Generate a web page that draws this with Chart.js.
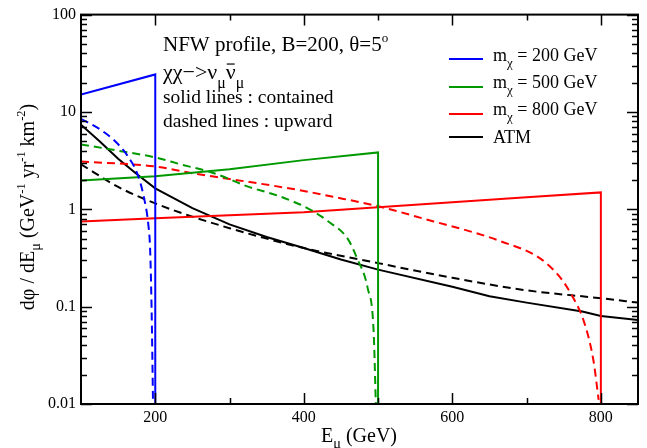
<!DOCTYPE html>
<html>
<head>
<meta charset="utf-8">
<script src="https://cdn.jsdelivr.net/npm/chart.js@4"></script>
<style>
  body { margin: 0; background: #fff; }
  canvas { display: block; }
</style>
</head>
<body>
<canvas id="fluxChart" width="647" height="448"></canvas>
<script>
// muon flux from DM annihilation (solid = contained, dashed = upward)
const m200SolidE = [100, 200, 200];
const m200SolidFlux = [15.1, 24.3, 0.01];
const m200DashE = [100, 126, 146, 162, 176, 184, 191, 193, 195, 197];
const m200DashFlux = [8.5, 6.6, 5.0, 3.6, 2.3, 1.4, 0.66, 0.4, 0.1, 0.01];

const m500SolidE = [100, 200, 300, 400, 500, 500];
const m500SolidFlux = [1.98, 2.18, 2.58, 3.2, 3.84, 0.01];
const m500DashE = [100, 150, 200, 234, 279, 324, 365, 395, 413, 433, 459, 472, 486, 494, 497];
const m500DashFlux = [4.64, 4.0, 3.41, 2.9, 2.35, 1.72, 1.38, 1.12, 0.95, 0.75, 0.5, 0.31, 0.155, 0.056, 0.01];

const m800SolidE = [100, 200, 300, 400, 500, 600, 700, 800, 800];
const m800SolidFlux = [0.75, 0.81, 0.87, 0.93, 1.05, 1.18, 1.33, 1.49, 0.01];
const m800DashE = [100, 200, 250, 300, 395, 436, 499, 575, 625, 665, 719, 746, 760, 777, 790, 797];
const m800DashFlux = [3.1, 2.75, 2.35, 2.05, 1.57, 1.36, 1.08, 0.75, 0.59, 0.47, 0.31, 0.196, 0.134, 0.071, 0.028, 0.011];

// atmospheric background
const atmSolidE = [100, 125, 150, 175, 200, 250, 300, 350, 400, 450, 500, 600, 650, 700, 775, 800, 850];
const atmSolidFlux = [7.4, 5.0, 3.3, 2.3, 1.64, 1.03, 0.70, 0.52, 0.40, 0.305, 0.24, 0.16, 0.128, 0.11, 0.089, 0.080, 0.073];
const atmDashE = [100, 150, 200, 250, 300, 350, 400, 500, 600, 700, 800, 850];
const atmDashFlux = [2.9, 1.7, 1.15, 0.84, 0.64, 0.50, 0.40, 0.28, 0.198, 0.147, 0.122, 0.11];

const xTicks = [200, 400, 600, 800];
const xMinorTicks = [300, 500, 700];
const yTicks = [0.01, 0.1, 1, 10, 100];
const yTickLabels = ["0.01", "0.1", "1", "10", "100"];
const legendMasses = ["200 GeV", "500 GeV", "800 GeV"];

const BLUE = "#0000ff", GREEN = "#009900", RED = "#ff0000", BLACK = "#000000";
const SERIF = '"Liberation Serif", "Times New Roman", serif';

function pts(xs, ys) {
  return xs.map((x, i) => ({ x: x, y: ys[i] }));
}

function line(xs, ys, color, dashed) {
  return {
    data: pts(xs, ys),
    borderColor: color,
    borderWidth: 2,
    borderDash: dashed ? [8, 5] : [],
    pointRadius: 0,
    fill: false,
    cubicInterpolationMode: dashed ? "monotone" : "default",
    tension: 0
  };
}

// draws text with sub/superscripts, returns end x
function richText(ctx, x, y, parts, size, measureOnly, subDrop) {
  let cx = x;
  for (const p of parts) {
    const kind = p[1] || "";
    const small = kind === "sub" || kind === "sup";
    const s = small ? size * (kind === "sup" ? 0.62 : 0.72) : size;
    ctx.font = s + "px " + SERIF;
    let dy = 0;
    if (kind === "sub") dy = size * (subDrop || 0.32);
    if (kind === "sup") dy = -size * 0.45;
    const w = ctx.measureText(p[0]).width;
    if (!measureOnly) {
      ctx.fillText(p[0], cx, y + dy);
      if (kind === "bar") {
        ctx.beginPath();
        ctx.lineWidth = 1.2;
        ctx.moveTo(cx + 1, y - size * 0.68);
        ctx.lineTo(cx + w - 1, y - size * 0.68);
        ctx.stroke();
      }
    }
    cx += w;
  }
  return cx;
}

const decorPlugin = {
  id: "decor",
  afterDatasetsDraw(chart) {
    const ctx = chart.ctx;
    const a = chart.chartArea;
    const xs = chart.scales.x, ys = chart.scales.y;
    ctx.save();
    ctx.strokeStyle = BLACK;
    ctx.fillStyle = BLACK;

    // inward ticks on all four sides
    ctx.lineWidth = 1.5;
    ctx.beginPath();
    const xt = (v, len) => {
      const px = Math.round(xs.getPixelForValue(v)) + 0.5;
      ctx.moveTo(px, a.bottom); ctx.lineTo(px, a.bottom - len);
      ctx.moveTo(px, a.top); ctx.lineTo(px, a.top + len);
    };
    xTicks.forEach(v => xt(v, 11));
    xMinorTicks.forEach(v => xt(v, 6));
    const yt = (v, len) => {
      const py = Math.round(ys.getPixelForValue(v)) + 0.5;
      ctx.moveTo(a.left, py); ctx.lineTo(a.left + len, py);
      ctx.moveTo(a.right, py); ctx.lineTo(a.right - len, py);
    };
    yTicks.forEach((d, i) => {
      yt(d, 11);
      if (i < yTicks.length - 1) {
        for (let k = 2; k <= 9; k++) yt(d * k, 6);
      }
    });
    ctx.stroke();

    // frame
    ctx.lineWidth = 2;
    ctx.strokeRect(a.left, a.top, a.right - a.left, a.bottom - a.top);

    // annotation text
    ctx.textAlign = "left";
    ctx.textBaseline = "alphabetic";
    richText(ctx, 163, 51, [["NFW profile, B=200, θ=5"], ["o", "sup"]], 21);
    richText(ctx, 163, 79, [["χχ−>ν"], ["μ", "sub"], ["ν", "bar"], ["μ", "sub"]], 22, false, 0.4);
    richText(ctx, 163, 103, [["solid lines : contained"]], 19.5);
    richText(ctx, 163, 127, [["dashed lines : upward"]], 19.5);

    // legend
    const legColors = [BLUE, GREEN, RED, BLACK];
    const lineYs = [59, 87, 114, 137];
    const textYs = [61, 88, 115, 143];
    legColors.forEach((c, i) => {
      ctx.strokeStyle = c;
      ctx.lineWidth = 2;
      ctx.beginPath();
      ctx.moveTo(449, lineYs[i]);
      ctx.lineTo(483, lineYs[i]);
      ctx.stroke();
      ctx.strokeStyle = BLACK;
      if (i < 3) {
        richText(ctx, 493, textYs[i], [["m"], ["χ", "sub"], [" = " + legendMasses[i]]], 18);
      } else {
        richText(ctx, 493, textYs[i], [["ATM"]], 18);
      }
    });

    // axis titles
    richText(ctx, 321, 442, [["E"], ["μ", "sub"], [" (GeV)"]], 20);
    const yParts = [["dφ / dE"], ["μ", "sub"], [" (GeV"], ["-1", "sup"], [" yr"], ["-1", "sup"], [" km"], ["-2", "sup"], [")"]];
    const w = richText(ctx, 0, 0, yParts, 20, true);
    ctx.save();
    ctx.translate(34, 207);
    ctx.rotate(-Math.PI / 2);
    richText(ctx, -w / 2, 0, yParts, 20);
    ctx.restore();

    ctx.restore();
  }
};

new Chart(document.getElementById("fluxChart"), {
  type: "line",
  data: {
    datasets: [
      line(m200SolidE, m200SolidFlux, BLUE, false),
      line(m200DashE, m200DashFlux, BLUE, true),
      line(m500SolidE, m500SolidFlux, GREEN, false),
      line(m500DashE, m500DashFlux, GREEN, true),
      line(m800SolidE, m800SolidFlux, RED, false),
      line(m800DashE, m800DashFlux, RED, true),
      line(atmSolidE, atmSolidFlux, BLACK, false),
      line(atmDashE, atmDashFlux, BLACK, true)
    ]
  },
  options: {
    responsive: false,
    animation: false,
    layout: { padding: { top: 14, right: 9, bottom: 0, left: 0 } },
    plugins: { legend: { display: false }, tooltip: { enabled: false } },
    scales: {
      x: {
        type: "linear",
        min: 100,
        max: 850,
        grid: { display: false, drawTicks: false },
        border: { display: false },
        afterBuildTicks: s => { s.ticks = xTicks.map(v => ({ value: v })); },
        afterFit: s => { s.height = 44; },
        ticks: {
          color: BLACK,
          padding: 4,
          maxRotation: 0,
          font: { family: SERIF, size: 16 },
          callback: v => String(v)
        }
      },
      y: {
        type: "logarithmic",
        min: 0.01,
        max: 100,
        grid: { display: false, drawTicks: false },
        border: { display: false },
        afterBuildTicks: s => { s.ticks = yTicks.map(v => ({ value: v })); },
        afterFit: s => { s.width = 81; },
        ticks: {
          color: BLACK,
          padding: 5,
          font: { family: SERIF, size: 16 },
          callback: v => {
            const i = yTicks.findIndex(t => Math.abs(t - v) / t < 1e-6);
            return i >= 0 ? yTickLabels[i] : "";
          }
        }
      }
    }
  },
  plugins: [decorPlugin]
});
</script>
</body>
</html>
